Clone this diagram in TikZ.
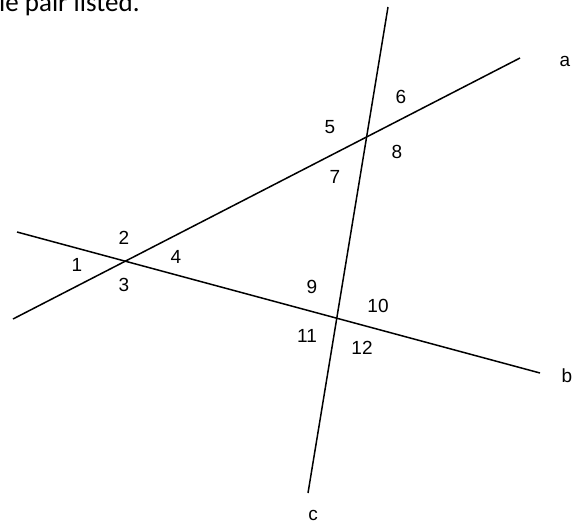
\documentclass[tikz,border=0pt]{standalone}
\usepackage{fontspec}
\setmainfont{Liberation Sans}
\newfontfamily\topfont{Carlito}
\begin{document}
\begin{tikzpicture}[x=1pt,y=-1pt,
  ln/.style={line width=1.5pt,black},
  lbl/.style={font=\fontsize{19}{21}\selectfont,inner sep=0pt,anchor=center},
  hdr/.style={font=\topfont\fontsize{27}{30}\selectfont,inner sep=0pt,anchor=base west}]
\useasboundingbox (0,0) rectangle (583,525);
\clip (0,0) rectangle (583,525);
\node[hdr] (hdr) at (-1,11) {le pair listed.};
% end points of lines
\coordinate (a1) at (13,319);
\coordinate (a2) at (520,58);
\coordinate (b1) at (17,232);
\coordinate (b2) at (540,373);
\coordinate (c1) at (388,7);
\coordinate (c2) at (308,493);
\draw[ln] (a1) -- (a2);
\draw[ln] (b1) -- (b2);
\draw[ln] (c1) -- (c2);
% angle labels
\node[lbl] (n1) at (77,265) {1};
\node[lbl] (n2) at (124,238) {2};
\node[lbl] (n3) at (124,285) {3};
\node[lbl] (n4) at (176,257) {4};
\node[lbl] (n5) at (330,127) {5};
\node[lbl] (n6) at (401,97) {6};
\node[lbl] (n7) at (335,177) {7};
\node[lbl] (n8) at (397,152) {8};
\node[lbl] (n9) at (312,287) {9};
\node[lbl] (n10) at (378,306) {10};
\node[lbl] (n11) at (307,336) {11};
\node[lbl] (n12) at (362,348) {12};
% line labels
\node[lbl] (la) at (565,61) {a};
\node[lbl] (lb) at (567,376) {b};
\node[lbl] (lc) at (313,515) {c};
\end{tikzpicture}
\end{document}
